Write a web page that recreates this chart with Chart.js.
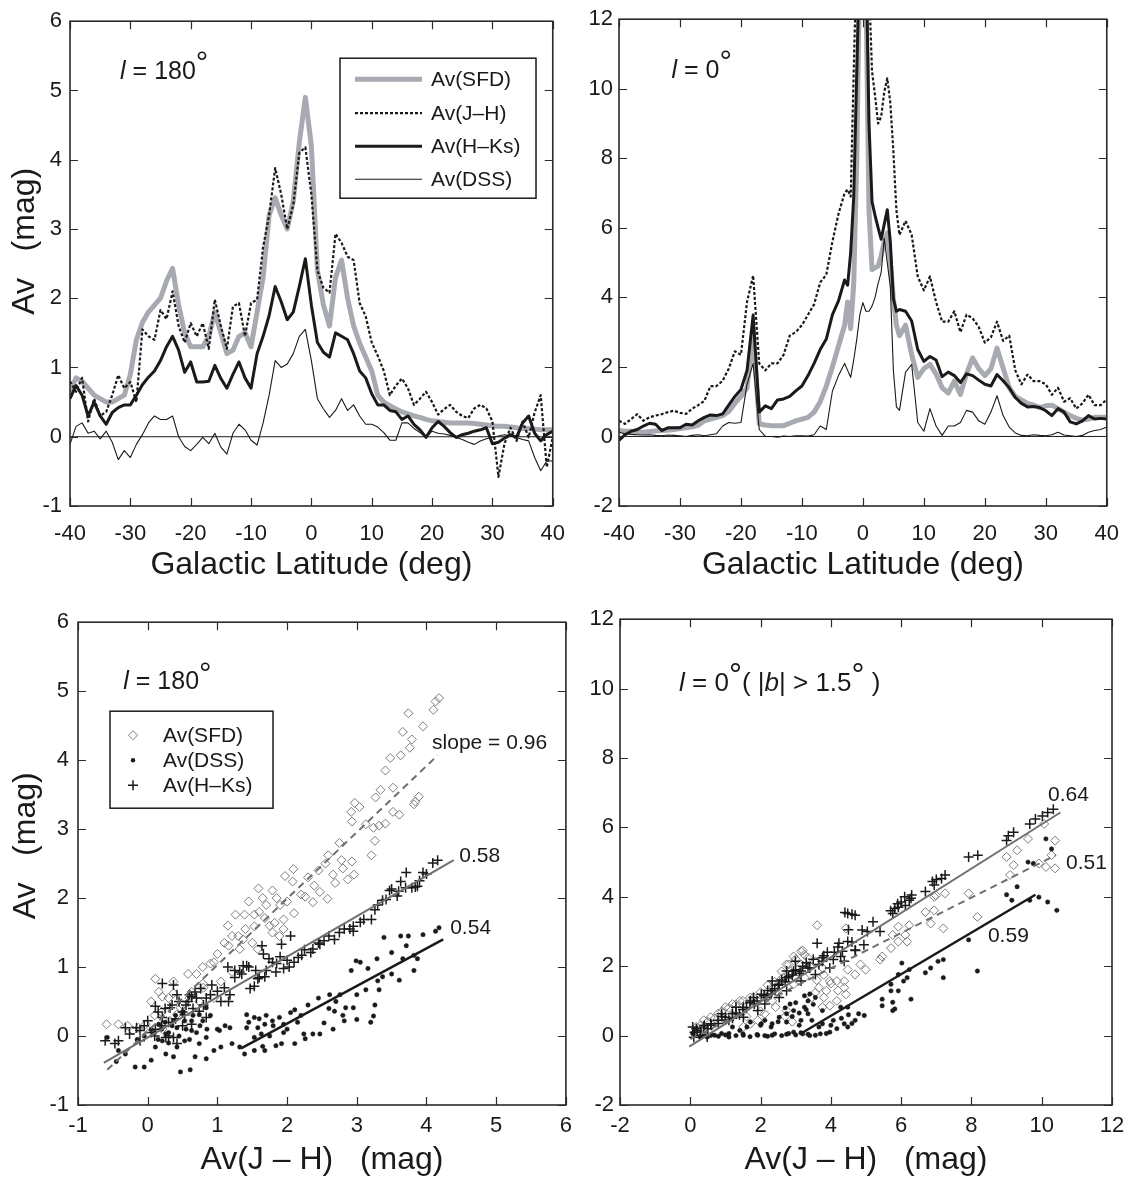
<!DOCTYPE html>
<html>
<head>
<meta charset="utf-8">
<script src="https://cdn.jsdelivr.net/npm/chart.js@4.4.1/dist/chart.umd.min.js"></script>
<style>
  body { margin: 0; background: #fff; }
  #wrap { position: relative; width: 1134px; height: 1186px; }
  canvas { position: absolute; }
</style>
</head>
<body>
<div id="wrap">
  <canvas id="tl" width="580" height="600" style="left:0;top:0"></canvas>
  <canvas id="tr" width="554" height="600" style="left:580px;top:0"></canvas>
  <canvas id="bl" width="580" height="586" style="left:0;top:600px"></canvas>
  <canvas id="br" width="554" height="586" style="left:580px;top:600px"></canvas>
</div>
<script>
// ---- top left: l = 180 profiles (1 deg steps)
const latTL = [-40,-39,-38,-37,-36,-35,-34,-33,-32,-31,-30,-29,-28,-27,-26,-25,-24,-23,-22,-21,
  -20,-19,-18,-17,-16,-15,-14,-13,-12,-11,-10,-9,-8,-7,-6,-5,-4,-3,-2,-1,0,
  1,2,3,4,5,6,7,8,9,10,11,12,13,14,15,16,17,18,19,20,21,22,23,24,25,26,27,28,29,30,
  31,32,33,34,35,36,37,38,39,40];
const sfdTL = [0.65,0.85,0.8,0.7,0.6,0.55,0.5,0.5,0.55,0.6, 0.9,1.4,1.65,1.8,1.9,2.0,2.25,2.43,1.9,1.5,
  1.3,1.3,1.3,1.45,1.8,1.5,1.2,1.25,1.45,1.5, 1.3,1.8,2.3,3.2,3.45,3.2,3.0,3.4,4.25,4.9, 4.2,
  2.4,1.9,1.6,2.3,2.55,2.0,1.6,1.35,1.15,0.95, 0.6,0.5,0.45,0.4,0.36,0.33,0.3,0.28,0.25,0.23,
  0.22,0.21,0.2,0.2,0.2,0.2,0.19,0.18,0.17,0.16, 0.15,0.15,0.14,0.13,0.12,0.12,0.11,0.1,0.1,0.1];
const jhTL = [0.8,0.65,0.85,0.22,0.55,0.3,0.36,0.6,0.89,0.7, 0.79,0.5,1.55,1.45,1.4,1.83,1.7,2.1,1.6,1.36,
  1.64,1.45,1.64,1.27,1.98,1.6,1.27,1.88,1.93,1.45, 1.93,1.98,2.74,3.2,3.88,3.5,3.0,3.35,4.1,4.18, 3.5,
  2.4,2.15,2.08,2.93,2.8,2.6,2.55,1.93,1.74,1.36, 1.17,0.95,0.6,0.74,0.84,0.7,0.46,0.55,0.65,0.5,
  0.32,0.4,0.46,0.36,0.3,0.27,0.41,0.46,0.41,0.22, -0.58,-0.1,0.13,-0.06,0.22,-0.01,0.35,0.6,-0.44,-0.01];
const hkTL = [0.55,0.74,0.6,0.3,0.5,0.3,0.18,0.35,0.42,0.46, 0.46,0.6,0.75,0.86,0.95,1.1,1.3,1.45,1.25,0.93,
  1.08,0.79,0.79,0.8,1.03,0.84,0.7,0.9,1.08,0.85, 0.7,1.2,1.45,1.75,2.17,1.95,1.69,1.8,2.17,2.57, 1.9,
  1.36,1.22,1.15,1.5,1.45,1.4,1.2,0.95,0.85,0.62, 0.46,0.46,0.38,0.36,0.25,0.3,0.18,0.1,-0.01,0.13,
  0.22,0.15,0.06,-0.01,0.03,0.05,0.08,0.1,0.13,-0.1, -0.08,-0.02,0.03,-0.01,0.2,0.3,0.05,-0.06,0.03,0.08];
const dssTL = [-0.11,0.15,0.2,0.05,0.08,-0.03,0.08,-0.08,-0.33,-0.2, -0.3,-0.11,0.03,0.2,0.3,0.25,0.25,0.3,0.0,-0.14,
  -0.2,-0.11,-0.01,-0.1,0.05,-0.15,-0.25,0.05,0.18,0.1, -0.05,-0.12,0.2,0.6,1.1,1.0,1.05,1.2,1.45,1.55, 1.1,
  0.55,0.4,0.28,0.38,0.55,0.38,0.46,0.3,0.18,0.18, 0.14,0.06,-0.05,-0.05,0.2,0.2,0.12,0.06,-0.01,0.08,
  0.05,0.04,0.02,-0.01,-0.04,-0.08,-0.11,-0.06,-0.03,-0.01, 0.01,0.03,0.01,-0.01,-0.04,-0.06,-0.3,-0.49,-0.35,-0.35];

// ---- top right: l = 0 profiles (half-degree steps near the plane)
const latTR = [-40,-39,-38,-37,-36,-35,-34,-33,-32,-31,-30,-29,-28,-27,-26,-25,-24,-23,-22,-21,
  -20,-19,-18,-17,-16,-15,-14,-13,-12,-11,-10,-9,-8,-7,-6,-5,-4,-3,
  -2.5,-2,-1.5,-1,-0.5,0,0.5,1,1.5,2,2.5,3,3.5,4,4.5,5,5.5,6,
  7,8,9,10,11,12,13,14,15,16,17,18,19,20,21,22,23,24,25,26,27,28,29,30,31,32,33,34,35,36,37,38,39,40];
const sfdTR = [0.17,0.15,0.15,0.13,0.12,0.14,0.16,0.17,0.18,0.2, 0.23,0.25,0.28,0.32,0.45,0.5,0.55,0.6,0.72,0.95,
  1.15,1.4,3.0,0.36,0.33,0.31,0.31,0.31,0.38,0.45, 0.5,0.55,0.7,1.0,1.45,2.0,2.6,3.2,
  3.87,3.1,4.4,8.0,14,14,13,6.5,4.8,4.85,4.9,5.2,5.6,5.85,5.0,3.96,3.2,2.9,
  3.2,2.35,1.7,1.95,2.07,1.8,1.4,1.25,1.59,1.21, 1.8,2.26,1.95,1.75,1.95,2.54,1.97,1.4,1.15,1.05,
  0.95,0.9,0.83,0.88,0.9,0.8,0.7,0.6,0.52,0.47, 0.5,0.55,0.55,0.55];
const jhTR = [0.45,0.36,0.5,0.64,0.45,0.55,0.6,0.64,0.7,0.74, 0.68,0.65,0.8,0.9,1.02,1.45,1.45,1.6,1.95,2.45,
  2.35,3.87,4.63,2.1,1.9,2.1,2.1,2.35,2.9,3.0, 3.2,3.5,3.8,4.43,4.65,5.6,6.4,7.0,
  7.1,6.9,10.5,14,14,14,14,13,10.5,9.8,9.0,9.2,9.9,10.3,9.6,8.2,6.5,5.8,
  6.2,5.8,4.6,4.2,4.6,3.87,3.3,3.3,3.6,3.0, 3.5,3.4,3.15,2.7,2.85,3.3,2.75,2.9,1.9,1.5,
  1.78,1.59,1.59,1.5,1.2,1.4,1.0,1.1,0.8,0.95, 1.2,0.9,0.9,1.07];
const hkTR = [-0.11,0.05,0.15,0.2,0.3,0.38,0.35,0.17,0.25,0.25, 0.25,0.35,0.33,0.45,0.55,0.62,0.6,0.65,0.9,1.15,
  1.35,1.9,3.49,0.7,0.88,0.8,1.05,1.08,1.15,1.31, 1.45,1.75,2.1,2.5,2.8,3.5,3.9,4.5,
  4.35,5.29,6.9,10.5,14,14,14,9.0,6.75,6.35,6.0,5.67,6.1,6.52,5.6,3.96,3.6,3.65,
  3.6,3.32,2.5,2.16,2.3,2.2,1.72,1.85,1.75,1.55, 1.8,1.75,1.62,1.5,1.45,1.78,1.6,1.4,1.12,0.95,
  0.85,0.86,0.83,0.74,0.6,0.8,0.7,0.42,0.36,0.45, 0.6,0.5,0.52,0.5];
const dssTR = [0.12,0.08,0.06,0.05,0.04,0.05,0.03,0.02,0.04,0.03, 0.02,0.0,0.03,0.05,0.02,0.05,0.08,0.3,0.4,0.38,
  0.4,1.5,2.1,0.2,0.0,0.0,-0.02,0.01,0.0,0.02, 0.02,0.01,0.05,0.3,0.2,1.3,1.75,2.1,
  1.9,1.7,2.2,2.8,3.5,3.85,3.6,3.6,3.75,4.0,4.4,4.72,5.7,5.0,4.3,1.9,0.85,0.75,
  1.85,2.07,0.4,0.15,0.8,0.3,0.03,0.3,0.3,0.4, 0.75,0.7,0.45,0.35,0.7,1.17,0.6,0.27,0.1,0.03,
  0.02,0.05,0.03,0.02,0.05,0.12,0.04,0.02,0.0,0.03, 0.12,0.17,0.2,0.27];

// ---- bottom left: l = 180 correlations [Av(J-H), Av]
const sfdBL = [[4.18,4.9],[4.13,4.85],[4.1,4.73],[3.74,4.68],[3.95,4.49],[3.66,4.41],[3.79,4.3],[3.76,4.18],[3.63,4.07],
  [3.48,4.03],[3.41,3.85],[3.52,3.6],[3.34,3.57],[3.27,3.46],[3.89,3.47],[3.84,3.4],[3.82,3.36],[2.97,3.38],[2.92,3.25],
  [3.04,3.32],[3.52,3.25],[3.61,3.21],[3.13,3.07],[3.32,3.05],[3.41,3.08],[3.24,3.02],[2.93,3.11],[3.26,2.83],[2.75,2.8],
  [3.21,2.62],[2.59,2.62],[2.93,2.53],[2.78,2.55],[2.8,2.43],[2.66,2.34],[2.96,2.34],[2.87,2.27],[2.69,2.22],[2.45,2.4],
  [2.09,2.42],[1.97,2.32],[2.08,2.24],[1.59,2.14],[1.79,2.11],[1.85,2.0],[2.39,2.18],[2.47,2.09],[2.26,2.02],[2.58,1.99],
  [2.37,1.94],[1.26,1.76],[1.39,1.76],[1.53,1.76],[1.68,1.71],[1.82,1.64],[1.95,1.69],[2.1,1.78],[1.21,1.45],[1.37,1.4],
  [1.53,1.59],[1.79,1.5],[1.89,1.45],[1.0,1.19],[1.16,1.31],[1.32,1.26],[1.58,1.26],[0.79,1.0],[0.95,1.07],[1.21,0.93],
  [0.58,0.9],[0.37,0.79],[0.11,0.83],[0.16,0.64],[0.21,0.57],[0.05,0.5],[0.37,0.62],[0.79,0.76],[1.05,0.79],[0.63,0.64],
  [0.47,0.41],[0.74,0.5],[0.95,0.55],[-0.59,0.17],[-0.42,0.17],[-0.29,0.15],[-0.13,0.12],[-0.03,0.17],[0.11,0.12],
  [0.21,0.1],[0.32,0.22],[0.42,0.31],[0,0.03],[-0.21,0.08],[1.4,1.55],[1.6,1.8],[1.7,1.9],[1.5,1.35],[1.9,1.9],[2.0,1.95],
  [1.75,1.6],[1.95,1.55],[2.2,2.05],[1.65,2.0],[1.1,1.35],[0.9,1.05],[0.7,0.9],[1.3,1.45],[0.3,0.55],[0.6,0.55],
  [0.8,0.7],[0.2,0.35],[0.5,0.45],[0.1,0.3],[2.3,2.3],[2.55,2.5],[1.45,1.95],[1.15,1.6]];
const dssBL = [[4.18,1.57],[4.13,1.52],[3.95,1.47],[3.63,1.45],[3.74,1.45],[3.39,1.43],[3.87,1.12],[3.82,1.17],[3.71,1.31],
  [3.5,1.21],[3.66,1.12],[3.82,0.95],[3.61,0.81],[2.99,1.09],[3.05,1.07],[3.16,0.98],[3.29,1.12],[2.92,0.95],[3.37,0.86],
  [3.13,0.67],[3.32,0.67],[2.61,0.6],[2.76,0.6],[2.45,0.55],[2.84,0.41],[2.95,0.41],[2.68,0.36],[2.82,0.22],[3.0,0.24],
  [3.24,0.29],[3.26,0.45],[2.66,0.1],[2.47,0.03],[2.24,0.03],[2.11,0.38],[2.05,0.34],[1.89,0.27],[1.95,0.17],[1.79,0.22],
  [1.68,0.17],[1.58,0.12],[1.53,0.27],[1.42,0.12],[1.42,0.31],[1.53,-0.02],[1.63,0.03],[1.32,-0.16],[1.21,-0.11],
  [1.39,-0.26],[1.53,-0.21],[1.68,-0.21],[1.84,-0.14],[1.92,-0.11],[2.11,-0.11],[2.37,0.03],[2.53,0.19],[2.26,-0.04],
  [2.0,0.1],[1.11,0.15],[1.18,0.12],[1.03,0.08],[0.84,-0.02],[0.63,0.08],[0.84,-0.33],[0.68,-0.3],[0.61,-0.49],
  [0.47,-0.52],[0.37,-0.3],[0.26,-0.26],[0.05,-0.35],[-0.05,-0.45],[-0.18,-0.45],[-0.32,-0.26],[-0.42,-0.21],
  [-0.58,-0.02],[-0.45,-0.37],[0.11,-0.16],[0.21,-0.07],[0.42,-0.16],[0.53,-0.07],[0.74,-0.11],[0.95,-0.21],[1.05,-0.16],
  [0.26,0.03],[0.42,0.12],[0.63,0.22],[0.74,0.31],[0.84,0.41],[0.79,0.22],[0.53,0.22],[0.37,0.22],[0.16,0.17],
  [0.1,0.05],[0.2,0.1],[0.3,0.05],[0.35,0.15],[0.45,0.0],[0.55,0.1],[0.6,-0.05],[0.7,0.05],[0.15,-0.05],[0.25,0.2],
  [0.4,0.3],[0.5,0.35],[0.65,0.3],[0.75,0.15],[0.85,0.1],[0.3,-0.1],[0.05,0.1],[-0.05,0.0],[-0.15,-0.05],[0.9,0.3],
  [1.0,0.1],[1.6,0.25],[1.7,0.3],[1.8,0.15],[1.75,0.0],[1.45,0.2],[2.2,0.3],[2.3,0.45],[2.6,0.4],[2.7,0.5],[3.0,0.6],
  [3.3,0.8],[3.5,0.9],[3.2,0.2],[2.8,0.3],[1.65,-0.15],[1.95,0.05],[2.15,0.2]];
const hkBL = [[4.16,2.55],[4.09,2.51],[3.95,2.37],[3.71,2.37],[3.63,2.24],[3.5,2.13],[3.58,2.03],[3.79,2.15],[3.87,2.17],
  [3.42,1.98],[3.84,2.16],[3.47,2.11],[3.37,1.97],[3.26,1.83],[3.21,1.69],[3.1,1.69],[2.95,1.59],[2.95,1.52],[2.82,1.55],
  [2.68,1.4],[2.53,1.38],[2.47,1.33],[2.37,1.26],[2.34,1.21],[2.21,1.17],[2.16,1.14],[2.05,1.45],[1.92,1.33],[2.1,1.07],
  [2.03,1.0],[1.95,0.98],[1.84,0.93],[1.79,1.07],[1.74,1.12],[1.66,1.19],[1.64,1.31],[1.68,0.86],[1.58,0.83],[1.53,0.72],
  [1.47,0.69],[1.42,1.02],[1.37,1.02],[1.32,0.93],[1.18,0.6],[1.16,0.5],[1.05,0.5],[0.92,0.74],[0.76,0.69],[0.68,0.64],
  [0.84,0.55],[0.63,0.57],[0.58,0.5],[0.42,0.6],[0.37,0.74],[0.21,0.76],[0.11,0.43],[0.32,0.41],[0.53,0.31],[0.74,0.36],
  [0.84,0.27],[0,0.22],[0.21,0.27],[0.11,0.1],[-0.11,0.08],[-0.16,0.12],[-0.26,0.03],[-0.32,0.12],[-0.42,-0.07],
  [-0.61,-0.07],[-0.47,-0.11],[-0.11,-0.07],[0.37,-0.02],[0.42,-0.11],[0.26,-0.02],[0.63,0.17],
  [0.1,0.0],[0.2,0.15],[0.3,0.2],[0.4,0.25],[0.5,0.35],[0.15,0.35],[0.25,0.4],[0.35,0.45],[0.45,0.5],[0.55,0.45],
  [0.6,0.6],[0.7,0.55],[0.05,0.05],[-0.05,0.15],[0.3,0.0],[0.5,0.15],[0.65,0.4],[0.8,0.45],[0.9,0.6],[1.0,0.65],
  [1.1,0.7],[1.25,0.85],[1.35,0.9],[1.45,1.0],[1.55,0.95],[1.6,0.85],[1.7,0.95],[1.85,1.05],[1.9,1.15],[2.0,1.1],
  [2.25,1.25],[2.45,1.35],[2.6,1.45],[2.75,1.5],[2.9,1.55],[3.05,1.65],[3.3,1.9],[3.6,2.1],[3.7,2.15],[3.9,2.25],
  [4.0,2.35],[1.15,1.0],[1.25,0.95]];
const fitSfdBL = [[-0.58,-0.49],[4.16,4.07]];
const fitHkBL = [[-0.63,-0.39],[4.39,2.55]];
const fitDssBL = [[1.34,-0.18],[4.24,1.4]];

// ---- bottom right: l = 0 correlations
const sfdBR = [[10.07,6.1],[10.38,5.62],[10.28,5.2],[10.38,4.82],[10.12,4.86],[9.92,4.96],[9.61,5.67],[9.3,5.34],[9.0,5.15],
  [9.2,4.91],[9.1,4.63],[7.92,4.1],[7.25,4.1],[6.94,4.0],[6.99,4.04],[6.69,3.56],[6.94,3.61],[6.84,3.23],[7.2,3.09],
  [8.17,3.42],[6.23,3.18],[5.92,3.14],[6.12,2.9],[6.17,2.71],[5.92,2.71],[5.76,2.9],[5.71,2.52],[5.4,2.19],[5.46,2.28],
  [4.99,1.9],[4.84,2.05],[4.69,1.76],[4.48,1.9],[4.38,1.57],[4.17,1.57],[4.38,1.38],[4.43,1.19],[4.17,1.0],[3.97,0.86],
  [3.76,0.82],[3.61,3.18],[4.43,3.09],[3.97,1.57],[3.66,1.38],[3.87,1.29],[3.56,1.24],[3.46,1.1],[3.15,2.43],[3.25,2.33],
  [2.94,2.28],[2.74,2.05],[2.84,1.86],[2.64,1.67],[3.15,2.05],[3.35,2.24],[3.56,2.14],[3.76,1.95],[2.43,0.82],[1.92,0.44],
  [1.71,0.34],[1.51,0.25],[2.12,0.63],[2.74,0.72],[2.33,1.0],[1.71,1.1],[1.41,1.0],[1.0,0.82],[0.79,0.63],[0.58,0.53],
  [0.38,0.44],[0.17,0.25],[1.2,0.91],[1.92,1.0],[2.33,1.38],[2.53,1.57],[2.94,1.48],[3.25,1.67],
  [0.5,0.4],[0.7,0.5],[0.9,0.7],[1.1,0.8],[1.3,0.9],[1.5,1.0],[1.6,0.55],[1.8,1.1],[2.0,1.25],[2.2,1.45],[2.4,1.55],
  [2.6,1.85],[2.8,2.05],[3.0,2.2],[3.2,2.45],[3.4,2.0],[3.0,1.65],[2.5,1.2],[2.0,0.7],[3.6,1.6],[3.8,1.75],[4.0,1.5],
  [4.2,1.3],[3.8,1.1],[2.7,0.55],[2.9,0.4],[1.2,0.6],[0.3,0.3]];
const dssBR = [[10.12,5.67],[10.28,5.38],[9.61,5.0],[9.76,4.96],[9.3,4.29],[9.0,4.06],[9.15,3.9],[9.66,3.9],[9.92,3.99],
  [10.17,3.85],[10.43,3.61],[7.92,2.76],[8.17,1.86],[7.2,2.19],[7.05,2.14],[6.84,1.95],[6.69,1.81],[7.2,1.67],[6.02,2.09],
  [6.23,1.9],[5.92,1.76],[6.17,1.67],[6.07,1.57],[5.92,1.29],[5.71,1.48],[6.28,1.05],[5.71,1.29],[5.46,1.05],[5.46,0.86],
  [5.76,0.96],[5.82,0.77],[5.76,0.72],[4.95,0.58],[4.79,0.63],[4.69,0.44],[4.48,0.82],[4.28,0.82],[4.48,0.25],[4.17,0.2],
  [3.97,0.1],[3.87,0.06],[3.66,0.25],[3.46,0.44],[3.15,0.44],[2.74,0.39],[2.33,0.34],[2.02,0.34],[1.61,0.25],[1.41,0.15],
  [1.1,0.06],[0.69,0.01],[0.28,-0.04],[0.07,0.06],[2.74,0.63],[2.94,0.72],[3.25,0.82],[2.84,0.91],[3.35,1.0],[3.25,1.15],
  [3.56,1.1],[3.76,0.72],[4.07,0.44],[4.38,0.34],[3.76,0.34],[3.35,0.63],[2.53,0.53],[2.12,0.44],[1.71,0.39],[1.2,0.25],
  [0.89,0.06],[1.51,0.01],[1.92,0.01],[2.33,0.01],[2.74,0.04],[3.15,0.08],[3.56,0.01],[0.48,-0.04],[1.1,-0.04],[2.12,0.0],
  [2.94,0.1],[3.35,0.04],[0.4,0.0],[0.6,0.03],[0.8,-0.02],[1.0,0.02],[1.3,0.0],[1.5,0.05],[1.7,-0.03],[1.9,0.03],
  [2.2,-0.02],[2.4,0.05],[2.6,0.0],[2.8,0.06],[3.0,0.02],[3.2,0.05],[3.4,0.0],[3.7,0.05],[2.0,0.3],[2.3,0.25],[2.5,0.4],
  [2.9,0.55],[3.1,0.65],[3.3,0.75],[3.5,0.9],[3.0,0.95],[2.7,0.8],[3.4,1.2],[3.1,0.3],[4.0,0.3],[4.3,0.5],[4.5,0.6],[4.6,0.35]];
const hkBR = [[10.33,6.52],[10.17,6.43],[10.02,6.33],[9.82,6.24],[9.66,6.1],[9.2,5.86],[9.05,5.76],[9.0,5.62],[7.92,5.15],
  [8.18,5.2],[7.25,4.63],[7.15,4.53],[6.89,4.44],[6.94,4.34],[6.69,4.15],[6.28,3.96],[6.23,3.9],[6.12,3.75],[5.92,3.7],
  [5.76,3.52],[5.82,3.66],[4.48,3.52],[4.69,3.47],[5.2,3.28],[4.89,3.04],[5.04,3.0],[5.4,3.0],[3.61,2.66],[4.23,2.66],
  [4.48,2.71],[4.94,2.62],[4.69,2.47],[4.33,2.43],[4.07,2.19],[3.76,2.14],[2.99,2.14],[2.74,1.86],[3.35,1.95],[3.66,2.05],
  [3.15,1.86],[2.74,1.67],[2.53,1.48],[2.33,1.29],[2.02,1.19],[2.17,1.1],[1.82,0.91],[1.51,0.82],[1.2,0.63],[1.0,0.53],
  [0.79,0.44],[0.58,0.34],[0.38,0.25],[0.17,0.2],[0.12,0.1],[0.28,0.01],[0.48,-0.04],[0.07,0.25],[0.89,0.63],[1.3,0.82],
  [1.71,1.0],[2.33,1.57],[2.94,1.86],[3.76,2.24],[4.28,2.28],[1.1,0.44],[1.51,0.53],[1.92,0.72],[2.12,0.91],[2.53,1.1],
  [2.74,1.29],[3.15,1.57],[3.56,1.76],[3.97,1.95],[4.38,2.14],
  [0.2,0.15],[0.3,0.1],[0.5,0.2],[0.6,0.3],[0.8,0.35],[1.0,0.45],[1.2,0.5],[1.3,0.65],[1.5,0.75],[1.6,0.8],[1.7,0.95],
  [1.9,1.0],[2.1,1.15],[2.2,1.3],[2.4,1.35],[2.5,1.45],[2.6,1.6],[2.8,1.7],[2.9,1.75],[3.0,1.9],[3.2,2.0],[3.3,2.1],
  [3.4,1.95],[3.5,2.2],[3.8,2.3],[3.9,2.4],[4.1,2.4],[4.2,2.55],[4.6,2.7],[4.7,2.45],[0.1,-0.05],[0.4,0.3],[0.9,0.55],
  [1.4,0.6],[1.8,1.1],[2.3,1.2],[2.7,1.55],[3.1,1.8],[4.5,3.05],[4.6,3.5],[4.4,3.55],[5.9,3.8],[6.0,3.85],[6.1,4.0],
  [6.3,4.05],[5.7,3.6],[7.0,4.5]];
const fitHkBR = [[-0.03,-0.32],[10.53,6.43]];
const fitSfdBR = [[0,-0.1],[10.4,5.2]];
const fitDssBR = [[3.15,0.06],[9.82,4.06]];
const zeroLine = [[-40,0],[40,0]];

const FONT = '"Liberation Sans", Arial, Helvetica, sans-serif';
const INK = '#1a1a1a';
const SFD_GRAY = '#a7aab0';
const FIT_GRAY = '#6f6f6f';
const TICK_SIZE = 22;

const xy = (xs, ys) => xs.map((x, i) => ({ x: x, y: ys[i] }));
const pts = arr => arr.map(p => ({ x: p[0], y: p[1] }));

function lineSet(data, color, width, dash) {
  return { data: data, showLine: true, borderColor: color, borderWidth: width, borderDash: dash || [],
    pointRadius: 0, tension: 0, borderJoinStyle: 'round', fill: false };
}
function pointSet(data, style, radius, color, fill, width) {
  return { data: data, showLine: false, pointStyle: style, pointRadius: radius, borderColor: color,
    backgroundColor: fill, pointBorderWidth: width, borderWidth: width };
}

function xScale(min, max, step, height, tickPad, title, titlePad) {
  return {
    type: 'linear', position: 'bottom', min: min, max: max,
    ticks: { stepSize: step, padding: tickPad, color: INK, font: { family: FONT, size: TICK_SIZE }, maxRotation: 0, autoSkip: false },
    grid: { display: false, drawTicks: false }, border: { display: false },
    title: { display: true, text: title, color: INK, font: { family: FONT, size: 32 }, padding: { top: 0, bottom: titlePad } },
    afterFit(s) { s.height = height; }
  };
}
function yScale(min, max, step, width, tickPad, title, titlePad) {
  return {
    type: 'linear', position: 'left', min: min, max: max,
    ticks: { stepSize: step, padding: tickPad, color: INK, font: { family: FONT, size: TICK_SIZE } },
    grid: { display: false, drawTicks: false }, border: { display: false },
    title: title ? { display: true, text: title, color: INK, font: { family: FONT, size: 32 }, padding: { top: titlePad, bottom: 0 } } : { display: false },
    afterFit(s) { s.width = width; }
  };
}

// box frame with inward ticks on all four sides
const frameTicks = {
  id: 'frameTicks',
  afterDatasetsDraw(chart) {
    const { ctx, chartArea: a, scales: { x, y } } = chart;
    ctx.save();
    ctx.strokeStyle = '#2a2a2a';
    ctx.lineWidth = 1.2;
    ctx.beginPath();
    x.ticks.forEach(t => {
      const p = Math.round(x.getPixelForValue(t.value)) + 0.5;
      ctx.moveTo(p, a.bottom); ctx.lineTo(p, a.bottom - 8);
      ctx.moveTo(p, a.top); ctx.lineTo(p, a.top + 8);
    });
    y.ticks.forEach(t => {
      const p = Math.round(y.getPixelForValue(t.value)) + 0.5;
      ctx.moveTo(a.left, p); ctx.lineTo(a.left + 8, p);
      ctx.moveTo(a.right, p); ctx.lineTo(a.right - 8, p);
    });
    ctx.stroke();
    ctx.lineWidth = 1.6;
    ctx.strokeRect(a.left, a.top, a.width, a.height);
    ctx.restore();
  }
};

function drawRich(ctx, x, y, parts, size) {
  let cx = x;
  parts.forEach(p => {
    const s = p.sup ? size * 1.25 : size;
    ctx.font = (p.it ? 'italic ' : '') + s + 'px ' + FONT;
    ctx.fillText(p.t, cx, p.sup ? y - size * 0.22 : y);
    cx += ctx.measureText(p.t).width;
  });
}

function drawSymbol(ctx, style, x, y, r, color, lw) {
  ctx.save();
  ctx.strokeStyle = color; ctx.fillStyle = color; ctx.lineWidth = lw;
  ctx.beginPath();
  if (style === 'rectRot') {
    ctx.moveTo(x, y - r); ctx.lineTo(x + r, y); ctx.lineTo(x, y + r); ctx.lineTo(x - r, y); ctx.closePath(); ctx.stroke();
  } else if (style === 'circle') {
    ctx.arc(x, y, r, 0, Math.PI * 2); ctx.fill();
  } else {
    ctx.moveTo(x - r, y); ctx.lineTo(x + r, y); ctx.moveTo(x, y - r); ctx.lineTo(x, y + r); ctx.stroke();
  }
  ctx.restore();
}

// text labels anchored in data units + an in-plot legend
function notes(texts, legend) {
  return {
    id: 'notes',
    afterDraw(chart) {
      const { ctx, chartArea: a, scales: { x, y } } = chart;
      ctx.save();
      ctx.fillStyle = INK;
      ctx.textBaseline = 'alphabetic';
      texts.forEach(n => drawRich(ctx, x.getPixelForValue(n.x), y.getPixelForValue(n.y), n.parts, n.size));
      if (legend) {
        const bx = a.left + legend.box[0], by = a.top + legend.box[1];
        ctx.fillStyle = '#fff';
        ctx.fillRect(bx, by, legend.box[2], legend.box[3]);
        ctx.strokeStyle = INK; ctx.lineWidth = 1.5; ctx.setLineDash([]);
        ctx.strokeRect(bx, by, legend.box[2], legend.box[3]);
        ctx.font = '21px ' + FONT;
        ctx.textBaseline = 'middle';
        legend.rows.forEach((r, i) => {
          const ds = chart.data.datasets[r.ds];
          const ry = by + legend.rowY[i];
          if (ds.showLine) {
            ctx.save();
            ctx.strokeStyle = ds.borderColor; ctx.lineWidth = ds.borderWidth;
            ctx.setLineDash(ds.borderDash || []);
            ctx.beginPath(); ctx.moveTo(bx + legend.sample[0], ry); ctx.lineTo(bx + legend.sample[1], ry); ctx.stroke();
            ctx.restore();
          } else {
            drawSymbol(ctx, ds.pointStyle, bx + legend.sample[0], ry, ds.pointRadius, ds.borderColor, ds.borderWidth);
          }
          ctx.fillStyle = INK;
          ctx.fillText(r.label, bx + legend.textX, ry + 1);
        });
      }
      ctx.restore();
    }
  };
}

function panel(id, datasets, scales, padRight, plugins) {
  return new Chart(document.getElementById(id), {
    type: 'scatter',
    data: { datasets: datasets },
    options: {
      responsive: false, animation: false, devicePixelRatio: 1,
      layout: { padding: { top: 14, right: padRight, left: 0, bottom: 0 } },
      plugins: { legend: { display: false }, tooltip: { enabled: false } },
      scales: scales
    },
    plugins: [frameTicks].concat(plugins)
  });
}

// top left
panel('tl', [
  lineSet(pts(zeroLine), INK, 1),
  lineSet(xy(latTL, dssTL), INK, 1.1),
  lineSet(xy(latTL, hkTL), INK, 3),
  lineSet(xy(latTL, jhTL), INK, 2.2, [3, 2]),
  lineSet(xy(latTL, sfdTL), SFD_GRAY, 5)
], {
  x: xScale(-40, 40, 10, 94, 15, 'Galactic Latitude (deg)', 16),
  y: yScale(-1, 6, 1, 70, 8, '     Av   (mag)', 6)
}, 18, [notes(
  [{ x: -31.7, y: 5.17, size: 25, parts: [{ t: 'l', it: true }, { t: ' = 180' }, { t: '°', sup: true }] }],
  { box: [270, 37, 196, 140], rowY: [21, 55, 88, 121], sample: [15, 82], textX: 91,
    rows: [{ ds: 4, label: 'Av(SFD)' }, { ds: 3, label: 'Av(J–H)' }, { ds: 2, label: 'Av(H–Ks)' }, { ds: 1, label: 'Av(DSS)' }] }
)]);

// top right
panel('tr', [
  lineSet(pts(zeroLine), INK, 1),
  lineSet(xy(latTR, dssTR), INK, 1.1),
  lineSet(xy(latTR, hkTR), INK, 3),
  lineSet(xy(latTR, jhTR), INK, 2.2, [3, 2]),
  lineSet(xy(latTR, sfdTR), SFD_GRAY, 5)
], {
  x: xScale(-40, 40, 10, 94, 15, 'Galactic Latitude (deg)', 16),
  y: yScale(-2, 12, 2, 39, 6, null, 0)
}, 22, [notes(
  [{ x: -31.4, y: 10.32, size: 25, parts: [{ t: 'l', it: true }, { t: ' = 0' }, { t: '°', sup: true }] }],
  null
)]);

// bottom left
panel('bl', [
  lineSet(pts(fitDssBL), INK, 2.5),
  lineSet(pts(fitHkBL), FIT_GRAY, 2),
  lineSet(pts(fitSfdBL), FIT_GRAY, 2, [7, 5]),
  pointSet(pts(hkBL), 'cross', 5, INK, INK, 1.5),
  pointSet(pts(dssBL), 'circle', 2.2, INK, INK, 0.5),
  pointSet(pts(sfdBL), 'rectRot', 4.5, '#7c7c7c', 'rgba(255,255,255,0)', 1)
], {
  x: xScale(-1, 6, 1, 81, 8, 'Av(J – H)   (mag)', 7),
  y: yScale(-1, 6, 1, 78, 9, '    Av   (mag)', 7)
}, 8, [notes([
  { x: -0.35, y: 5.03, size: 25, parts: [{ t: 'l', it: true }, { t: ' = 180' }, { t: '°', sup: true }] },
  { x: 4.08, y: 4.16, size: 21, parts: [{ t: 'slope = 0.96' }] },
  { x: 4.47, y: 2.52, size: 21, parts: [{ t: '0.58' }] },
  { x: 4.34, y: 1.48, size: 21, parts: [{ t: '0.54' }] }
], { box: [32, 89, 163, 97], rowY: [24, 49, 74], sample: [23, 0], textX: 53,
     rows: [{ ds: 5, label: 'Av(SFD)' }, { ds: 4, label: 'Av(DSS)' }, { ds: 3, label: 'Av(H–Ks)' }] }
)]);

// bottom right
panel('br', [
  lineSet(pts(fitDssBR), INK, 2.5),
  lineSet(pts(fitHkBR), FIT_GRAY, 2),
  lineSet(pts(fitSfdBR), FIT_GRAY, 2, [7, 5]),
  pointSet(pts(hkBR), 'cross', 5, INK, INK, 1.5),
  pointSet(pts(dssBR), 'circle', 2.2, INK, INK, 0.5),
  pointSet(pts(sfdBR), 'rectRot', 4.5, '#7c7c7c', 'rgba(255,255,255,0)', 1)
], {
  x: xScale(-2, 12, 2, 81, 8, 'Av(J – H)   (mag)', 7),
  y: yScale(-2, 12, 2, 40, 6, null, 0)
}, 22, [notes([
  { x: -0.32, y: 9.92, size: 26, parts: [{ t: 'l', it: true }, { t: ' = 0' }, { t: '°', sup: true }, { t: '( |' },
    { t: 'b', it: true }, { t: '| > 1.5' }, { t: '°', sup: true }, { t: ' )' }] },
  { x: 10.18, y: 6.75, size: 21, parts: [{ t: '0.64' }] },
  { x: 10.69, y: 4.81, size: 21, parts: [{ t: '0.51' }] },
  { x: 8.47, y: 2.70, size: 21, parts: [{ t: '0.59' }] }
], null)]);
</script>
</body>
</html>
